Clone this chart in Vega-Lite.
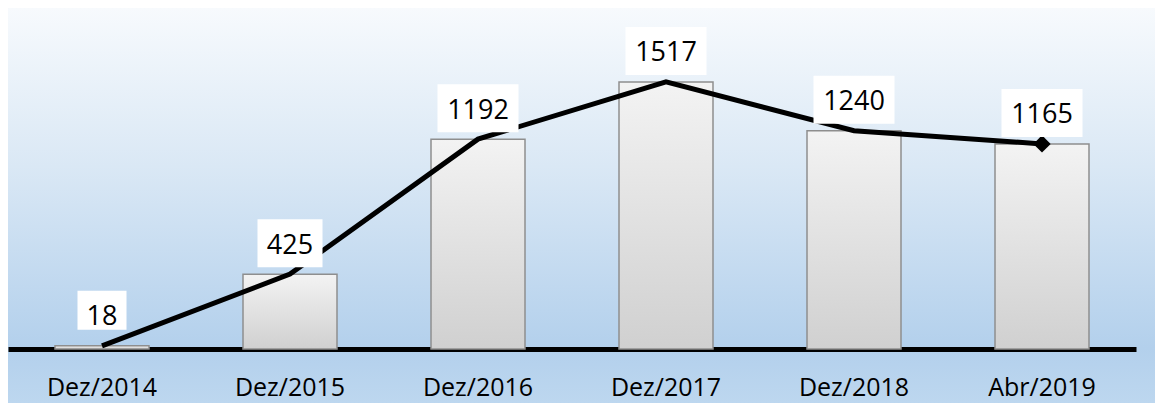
{
  "$schema": "https://vega.github.io/schema/vega-lite/v6.json",
  "width": 1147,
  "height": 395,
  "autosize": {"type": "none"},
  "padding": {"left": 8, "top": 8, "right": 0, "bottom": 0},
  "background": "white",
  "config": {
    "view": {
      "stroke": null,
      "fill": {"gradient": "linear", "x1": 0, "y1": 0, "x2": 0, "y2": 1,
        "stops": [
          {"offset": 0, "color": "#f7fafd"},
          {"offset": 0.4, "color": "#dae8f5"},
          {"offset": 0.86, "color": "#b3d0ec"},
          {"offset": 1, "color": "#bdd7ef"}
        ]}
    },
    "font": "Open Sans"
  },
  "data": {
    "values": [
      {"periodo": "Dez/2014", "valor": 18},
      {"periodo": "Dez/2015", "valor": 425},
      {"periodo": "Dez/2016", "valor": 1192},
      {"periodo": "Dez/2017", "valor": 1517},
      {"periodo": "Dez/2018", "valor": 1240},
      {"periodo": "Abr/2019", "valor": 1165}
    ]
  },
  "encoding": {
    "x": {
      "field": "periodo", "type": "nominal", "sort": null,
      "scale": {"range": [0, 1128], "paddingInner": 0.5, "paddingOuter": 0.25},
      "axis": {
        "title": null, "labelAngle": 0, "ticks": false, "grid": false,
        "offset": -54, "domainColor": "#000000", "domainWidth": 5,
        "labelFont": "Open Sans", "labelFontSize": 25, "labelColor": "#000000",
        "labelBaseline": "alphabetic", "labelPadding": 46
      }
    },
    "y": {
      "field": "valor", "type": "quantitative",
      "scale": {"domain": [-307, 1937], "nice": false, "zero": false},
      "axis": null
    }
  },
  "layer": [
    {
      "mark": {
        "type": "bar",
        "color": {"gradient": "linear", "x1": 0, "y1": 0, "x2": 0, "y2": 1,
          "stops": [{"offset": 0, "color": "#f3f3f3"}, {"offset": 1, "color": "#d0d0d0"}]},
        "stroke": "#8e8e8e", "strokeWidth": 1.5
      },
      "encoding": {"y2": {"datum": 0}}
    },
    {
      "mark": {"type": "line", "color": "#000000", "strokeWidth": 5, "strokeJoin": "miter"},
      "encoding": {}
    },
    {
      "transform": [{"filter": "datum.periodo === 'Abr/2019'"}],
      "mark": {"type": "point", "shape": "diamond", "filled": true, "color": "#000000", "opacity": 1, "size": 300},
      "encoding": {}
    },
    {
      "transform": [{"filter": "datum.valor >= 1000"}],
      "mark": {"type": "point", "shape": "M-40.5,-55H40.5V-7H-40.5Z", "size": 4, "filled": true, "color": "#ffffff", "opacity": 1},
      "encoding": {}
    },
    {
      "transform": [{"filter": "datum.valor >= 100 && datum.valor < 1000"}],
      "mark": {"type": "point", "shape": "M-32.5,-55H32.5V-7H-32.5Z", "size": 4, "filled": true, "color": "#ffffff", "opacity": 1},
      "encoding": {}
    },
    {
      "transform": [{"filter": "datum.valor < 100"}],
      "mark": {"type": "point", "shape": "M-24.5,-55H24.5V-16H-24.5Z", "size": 4, "filled": true, "color": "#ffffff", "opacity": 1},
      "encoding": {}
    },
    {
      "mark": {"type": "text", "font": "Open Sans", "fontSize": 27, "color": "#000000", "align": "center", "baseline": "alphabetic", "dy": -20.5},
      "encoding": {"text": {"field": "valor", "type": "quantitative"}}
    }
  ]
}
